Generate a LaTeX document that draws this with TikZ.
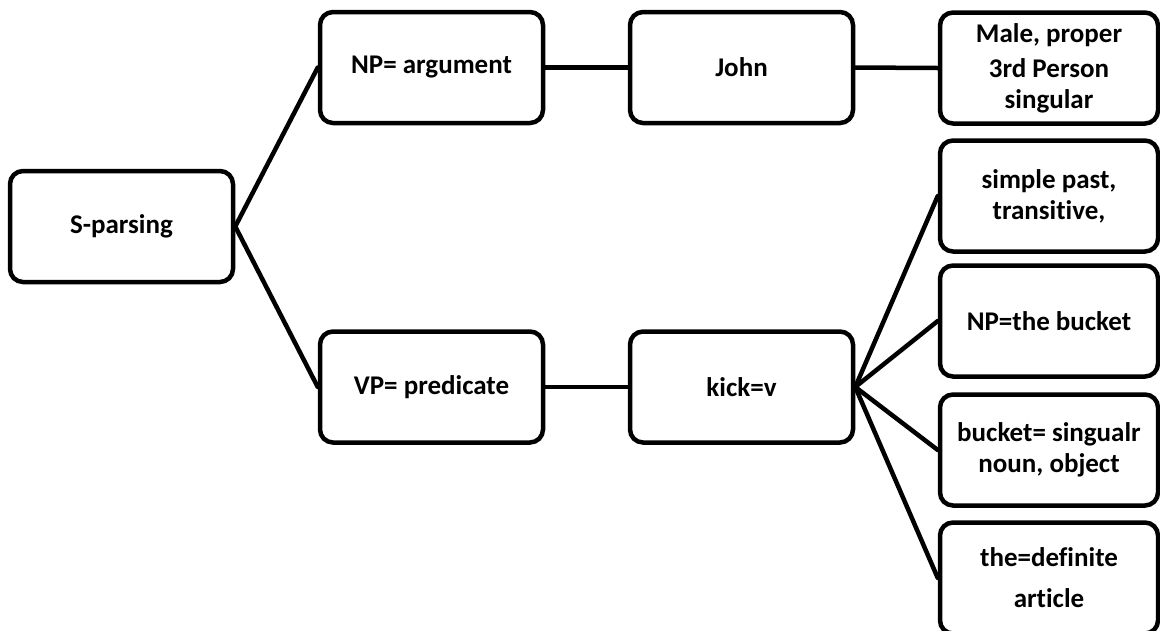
\documentclass[tikz,border=0pt]{standalone}
\usepackage{fontspec}
\setmainfont{Carlito}[Ligatures=NoCommon]
\begin{document}
\begin{tikzpicture}[x=1pt,y=-1pt,
  box/.style={draw=black,line width=4.5pt,rounded corners=13pt,fill=white,
    minimum height=111pt,inner sep=2pt,align=center,
    font=\fontsize{27}{31}\selectfont\bfseries},
  wbox/.style={box,minimum width=223pt},
  rbox/.style={box,minimum width=218pt},
  link/.style={line width=4.5pt,line cap=round}]
\clip (0,0) rectangle (1160,630);
% parse tree boxes
\node[wbox] (s)    at (121.5,226.5) {S-parsing};
\node[wbox] (np)   at (431.5,67.5)  {NP= argument};
\node[wbox] (vp)   at (431.5,387)   {VP= predicate};
\node[wbox] (john) at (741.5,67.5)  {John};
\node[wbox] (kick) at (741.5,387)   {kick=v};
\node[rbox] (male) at (1049,68)     {Male, proper\\[4pt]3rd Person\\singular};
\node[rbox] (past) at (1049,196)    {simple past,\\transitive,};
\node[rbox] (npb)  at (1049,321)    {NP=the bucket};
\node[rbox] (buck) at (1049,450)    {bucket= singualr\\noun, object};
\node[rbox] (the)  at (1049,578)    {the=definite\\[10pt]article};
% connectors
\draw[link] (s.east) -- (np.west);
\draw[link] (s.east) -- (vp.west);
\draw[link] (np.east) -- (john.west);
\draw[link] (vp.east) -- (kick.west);
\draw[link] (john.east) -- (male.west);
\foreach \t in {past,npb,buck,the}
  \draw[link] (kick.east) -- (\t.west);
\end{tikzpicture}
\end{document}
